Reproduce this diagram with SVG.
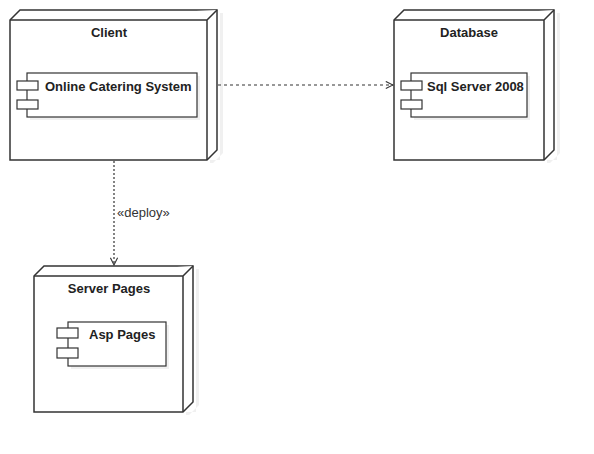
<svg xmlns="http://www.w3.org/2000/svg" width="594" height="454" viewBox="0 0 594 454">
<defs>
<marker id="open" viewBox="0 0 10 10" refX="9" refY="5" markerWidth="9" markerHeight="9" markerUnits="userSpaceOnUse" orient="auto">
<path d="M1,1 L9,5 L1,9" fill="none" stroke="#333" stroke-width="1.2"/>
</marker>
</defs>
<style>
.shadow{fill:#f0f0f0;stroke:none}
.box{fill:#fff;stroke:#333;stroke-width:1.5}
.comp{fill:#fff;stroke:#333;stroke-width:1.2}
.t{font-family:"Liberation Sans",Arial,sans-serif;font-size:13px;font-weight:bold;fill:#222}
.lbl{font-family:"Liberation Sans",Arial,sans-serif;font-size:13px;fill:#333}
.edge{fill:none;stroke:#333;stroke-width:1.2}
</style>
<rect width="594" height="454" fill="#fff"/>
<g id="client">
<path class="shadow" d="M13,163 L213,163 L223,153 L223,13 L220,13 L220,160 L210,160 L210,163 Z"/>
<path class="box" d="M10,20 L20,10 L217,10 L217,150 L207,160 L10,160 Z"/>
<path class="box" d="M10,20 L207,20 L217,10 M207,20 L207,160"/>
<text class="t" x="109" y="37" text-anchor="middle">Client</text>
<g id="c1">
<rect class="shadow" x="30" y="76" width="170" height="44"/>
<rect class="comp" x="27" y="73" width="170" height="44"/>
<rect class="comp" x="17" y="81" width="21" height="9"/>
<rect class="comp" x="17" y="100" width="21" height="9"/>
<text class="t" x="45" y="91">Online Catering System</text>
</g>
</g>
<g id="database">
<path class="shadow" d="M397,163 L550,163 L560,153 L560,13 L557,13 L557,160 L547,160 L547,163 Z"/>
<path class="box" d="M394,20 L404,10 L554,10 L554,150 L544,160 L394,160 Z"/>
<path class="box" d="M394,20 L544,20 L554,10 M544,20 L544,160"/>
<text class="t" x="469" y="37" text-anchor="middle">Database</text>
<g id="c2">
<rect class="shadow" x="414" y="76" width="116" height="44"/>
<rect class="comp" x="411" y="73" width="116" height="44"/>
<rect class="comp" x="401" y="81" width="21" height="9"/>
<rect class="comp" x="401" y="100" width="21" height="9"/>
<text class="t" x="427" y="91">Sql Server 2008</text>
</g>
</g>
<g id="serverpages">
<path class="shadow" d="M37,415 L189,415 L199,405 L199,269 L196,269 L196,412 L186,412 L186,415 Z"/>
<path class="box" d="M34,276 L44,266 L193,266 L193,402 L183,412 L34,412 Z"/>
<path class="box" d="M34,276 L183,276 L193,266 M183,276 L183,412"/>
<text class="t" x="109" y="293" text-anchor="middle">Server Pages</text>
<g id="c3">
<rect class="shadow" x="71" y="325" width="98" height="44"/>
<rect class="comp" x="68" y="322" width="98" height="44"/>
<rect class="comp" x="57" y="328" width="21" height="10"/>
<rect class="comp" x="57" y="348" width="21" height="10"/>
<text class="t" x="89" y="339">Asp Pages</text>
</g>
</g>
<g id="connectors">
<path class="edge" d="M218,85 L393,85" stroke-dasharray="3,3" marker-end="url(#open)"/>
<path class="edge" d="M114,161 L114,265" stroke-width="2" stroke-dasharray="2,2" marker-end="url(#open)"/>
<text class="lbl" x="117" y="217">«deploy»</text>
</g>
</svg>
